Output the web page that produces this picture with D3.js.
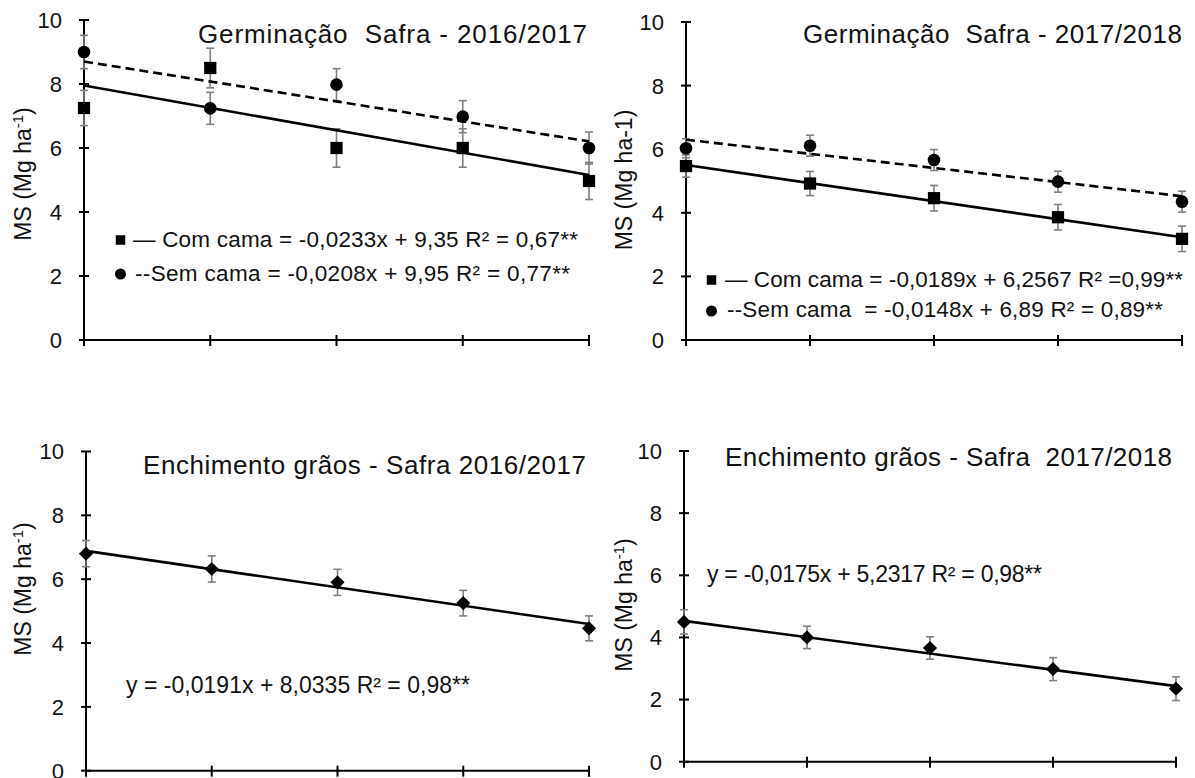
<!DOCTYPE html>
<html>
<head>
<meta charset="utf-8">
<script src="https://cdn.jsdelivr.net/npm/d3@7"></script>
<style>
  html, body { margin: 0; padding: 0; background: #fff; }
  svg { display: block; font-family: "Liberation Sans", Arial, sans-serif; }
</style>
</head>
<body>
<svg id="chart" width="1195" height="778"></svg>
<script>
// Nitrogen doses (x) for each season
const doses1617 = [60, 90, 120, 150, 180];
const doses1718 = [40, 70, 100, 130, 160];
const yTickValues = [0, 2, 4, 6, 8, 10];

// Dry matter (Mg ha-1) – germination stage
const germ1617Com = [7.25, 8.5, 6.0, 6.0, 4.97];
const germ1617ComErr = [0.55, 0.62, 0.6, 0.6, 0.58];
const germ1617Sem = [9.0, 7.24, 7.98, 6.98, 6.0];
const germ1617SemErr = [0.52, 0.5, 0.5, 0.5, 0.5];

const germ1718Com = [5.47, 4.92, 4.46, 3.86, 3.18];
const germ1718ComErr = [0.35, 0.38, 0.4, 0.4, 0.4];
const germ1718Sem = [6.03, 6.11, 5.66, 4.98, 4.35];
const germ1718SemErr = [0.3, 0.33, 0.33, 0.33, 0.33];

// Dry matter (Mg ha-1) – grain filling stage
const ench1617 = [6.8, 6.32, 5.9, 5.25, 4.46];
const ench1617Err = [0.41, 0.41, 0.41, 0.4, 0.39];
const ench1718 = [4.5, 4.0, 3.66, 2.98, 2.35];
const ench1718Err = [0.39, 0.36, 0.36, 0.37, 0.38];

// Linear fits [slope, intercept]
const fitGerm1617Com = [-0.0233, 9.35];
const fitGerm1617Sem = [-0.0208, 9.95];
const fitGerm1718Com = [-0.0189, 6.2567];
const fitGerm1718Sem = [-0.0148, 6.89];
const fitEnch1617 = [-0.0191, 8.0335];
const fitEnch1718 = [-0.0175, 5.2317];

const titles = [
  "Germinação\u00a0\u00a0Safra - 2016/2017",
  "Germinação\u00a0\u00a0Safra - 2017/2018",
  "Enchimento grãos - Safra 2016/2017",
  "Enchimento grãos - Safra\u00a0\u00a02017/2018"
];

const legend1617 = [
  "\u2014 Com cama = -0,0233x + 9,35 R² = 0,67**",
  "--Sem cama = -0,0208x + 9,95 R² = 0,77**"
];
const legend1718 = [
  "\u2014 Com cama = -0,0189x + 6,2567 R² =0,99**",
  "--Sem cama\u00a0\u00a0= -0,0148x + 6,89 R² = 0,89**"
];
const eqEnch1617 = "y = -0,0191x + 8,0335 R² = 0,98**";
const eqEnch1718 = "y = -0,0175x + 5,2317 R² = 0,98**";

const svg = d3.select("#chart");
const FONT = 22;
const TEXT = "#111";
const ERR = "#7f7f7f";

// Panel frames (pixel geometry of the plotting areas)
const frames = [
  { xl: 84,  xr: 589,  yt: 20,    yb: 340 },
  { xl: 686, xr: 1182, yt: 22,    yb: 340 },
  { xl: 86,  xr: 589,  yt: 451.5, yb: 770.7 },
  { xl: 684, xr: 1176, yt: 451,   yb: 761.7 }
];

function drawAxes(f, doses) {
  const x = d3.scaleLinear().domain([doses[0], doses[doses.length - 1]]).range([f.xl, f.xr]);
  const y = d3.scaleLinear().domain([0, 10]).range([f.yb, f.yt]);
  const g = svg.append("g");

  // y axis with crossing ticks
  g.append("line").attr("x1", f.xl).attr("x2", f.xl).attr("y1", y(10)).attr("y2", y(0))
    .attr("stroke", "#000").attr("stroke-width", 2);
  g.selectAll(".yt").data(yTickValues).join("line")
    .attr("x1", f.xl - 5).attr("x2", f.xl + 5)
    .attr("y1", d => y(d)).attr("y2", d => y(d))
    .attr("stroke", "#000").attr("stroke-width", 2);
  g.selectAll(".yl").data(yTickValues).join("text")
    .attr("x", f.xl - 22).attr("y", d => y(d)).attr("dy", "0.36em")
    .attr("text-anchor", "end").attr("font-size", FONT).attr("fill", TEXT)
    .text(d => d);

  // x axis with crossing ticks (no labels)
  g.append("line").attr("x1", f.xl).attr("x2", f.xr).attr("y1", y(0)).attr("y2", y(0))
    .attr("stroke", "#000").attr("stroke-width", 2);
  g.selectAll(".xt").data(doses).join("line")
    .attr("x1", d => x(d)).attr("x2", d => x(d))
    .attr("y1", y(0) - 5).attr("y2", y(0) + 6)
    .attr("stroke", "#000").attr("stroke-width", 2);
  return { x, y, g };
}

function yLabel(cx, cy, superscript) {
  const t = svg.append("text")
    .attr("transform", `translate(${cx},${cy}) rotate(-90)`)
    .attr("text-anchor", "middle").attr("font-size", 23).attr("fill", TEXT);
  if (superscript) {
    t.append("tspan").text("MS (Mg ha");
    t.append("tspan").attr("font-size", 15).attr("dy", -8).text("-1");
    t.append("tspan").attr("dy", 8).text(")");
  } else {
    t.text("MS (Mg ha-1)");
  }
}

function fitLine(s, doses, fit, dashed) {
  const xs = [doses[0], doses[doses.length - 1]];
  s.g.append("path")
    .datum(xs)
    .attr("d", d3.line().x(d => s.x(d)).y(d => s.y(fit[0] * d + fit[1])))
    .attr("fill", "none").attr("stroke", "#000").attr("stroke-width", 2.6)
    .attr("stroke-dasharray", dashed ? "9,5" : null);
}

function errorBars(s, doses, vals, errs) {
  const data = doses.map((d, i) => ({ x: d, v: vals[i], e: errs[i] }));
  const eg = s.g.append("g").attr("stroke", ERR).attr("stroke-width", 1.6);
  eg.selectAll(".v").data(data).join("line")
    .attr("x1", d => s.x(d.x)).attr("x2", d => s.x(d.x))
    .attr("y1", d => s.y(d.v + d.e)).attr("y2", d => s.y(d.v - d.e));
  eg.selectAll(".t").data(data).join("line")
    .attr("x1", d => s.x(d.x) - 4).attr("x2", d => s.x(d.x) + 4)
    .attr("y1", d => s.y(d.v + d.e)).attr("y2", d => s.y(d.v + d.e));
  eg.selectAll(".b").data(data).join("line")
    .attr("x1", d => s.x(d.x) - 4).attr("x2", d => s.x(d.x) + 4)
    .attr("y1", d => s.y(d.v - d.e)).attr("y2", d => s.y(d.v - d.e));
}

const symSquare = d3.symbol().type(d3.symbolSquare).size(150);
const symCircle = d3.symbol().type(d3.symbolCircle).size(125);
const symDiamond = d3.symbol().type(d3.symbolSquare).size(100);

function markers(s, doses, vals, sym, rotate) {
  s.g.selectAll(null).data(doses.map((d, i) => [d, vals[i]])).join("path")
    .attr("d", sym)
    .attr("transform", d => `translate(${s.x(d[0])},${s.y(d[1])})` + (rotate ? " rotate(45)" : ""))
    .attr("fill", "#000");
}

// text spanning a fixed horizontal extent [x0, x1]
function spanText(txt, x0, x1, yBase, size) {
  svg.append("text").attr("x", x0).attr("y", yBase)
    .attr("font-size", size).attr("fill", TEXT)
    .attr("textLength", x1 - x0).attr("lengthAdjust", "spacing")
    .text(txt);
}

function legendRow(xSym, ySym, sym, txt, x0, x1, yTxt) {
  svg.append("path").attr("d", sym).attr("transform", `translate(${xSym},${ySym})`).attr("fill", "#000");
  spanText(txt, x0, x1, yTxt, 22.5);
}

const symSmallSquare = d3.symbol().type(d3.symbolSquare).size(90);
const symSmallCircle = d3.symbol().type(d3.symbolCircle).size(95);

// Panel 1 – Germinação 2016/2017
{
  const s = drawAxes(frames[0], doses1617);
  errorBars(s, doses1617, germ1617Com, germ1617ComErr);
  errorBars(s, doses1617, germ1617Sem, germ1617SemErr);
  fitLine(s, doses1617, fitGerm1617Sem, true);
  fitLine(s, doses1617, fitGerm1617Com, false);
  markers(s, doses1617, germ1617Com, symSquare, false);
  markers(s, doses1617, germ1617Sem, symCircle, false);
  yLabel(31, 174, true);
  spanText(titles[0], 198, 587, 43, 26);
  legendRow(120.5, 240, symSmallSquare, legend1617[0], 133, 578, 247);
  legendRow(120.5, 274, symSmallCircle, legend1617[1], 135, 570, 281);
}

// Panel 2 – Germinação 2017/2018
{
  const s = drawAxes(frames[1], doses1718);
  errorBars(s, doses1718, germ1718Com, germ1718ComErr);
  errorBars(s, doses1718, germ1718Sem, germ1718SemErr);
  fitLine(s, doses1718, fitGerm1718Sem, true);
  fitLine(s, doses1718, fitGerm1718Com, false);
  markers(s, doses1718, germ1718Com, symSquare, false);
  markers(s, doses1718, germ1718Sem, symCircle, false);
  yLabel(632, 180, false);
  spanText(titles[1], 803, 1182, 43, 26);
  legendRow(711.5, 280, symSmallSquare, legend1718[0], 725, 1183, 287);
  legendRow(711.5, 311, symSmallCircle, legend1718[1], 727, 1163, 317);
}

// Panel 3 – Enchimento de grãos 2016/2017
{
  const s = drawAxes(frames[2], doses1617);
  errorBars(s, doses1617, ench1617, ench1617Err);
  fitLine(s, doses1617, fitEnch1617, false);
  markers(s, doses1617, ench1617, symDiamond, true);
  yLabel(31, 589, true);
  spanText(titles[2], 143, 586, 474, 26);
  spanText(eqEnch1617, 126, 470, 693, 23);
}

// Panel 4 – Enchimento de grãos 2017/2018
{
  const s = drawAxes(frames[3], doses1718);
  errorBars(s, doses1718, ench1718, ench1718Err);
  fitLine(s, doses1718, fitEnch1718, false);
  markers(s, doses1718, ench1718, symDiamond, true);
  yLabel(632, 605, true);
  spanText(titles[3], 725, 1172, 466, 26);
  spanText(eqEnch1718, 707, 1042, 582, 23);
}
</script>
</body>
</html>
